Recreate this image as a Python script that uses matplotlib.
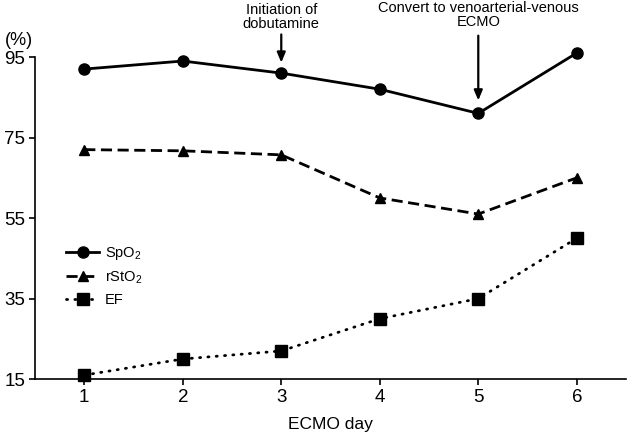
import matplotlib
matplotlib.use("Agg")
import matplotlib.pyplot as plt

plt.rcParams['font.family'] = ['Liberation Sans', 'DejaVu Sans']
plt.rcParams['mathtext.fontset'] = 'custom'
plt.rcParams['mathtext.rm'] = 'Liberation Sans'
plt.rcParams['mathtext.default'] = 'regular'

days = [1, 2, 3, 4, 5, 6]
spo2 = [92, 94, 91, 87, 81, 96]
rsto2 = [72, 71.7, 70.7, 60, 56, 65]
ef = [16, 20, 22, 30, 35, 50]
yticks = [15, 35, 55, 75, 95]

fig = plt.figure(figsize=(6.33, 4.45), dpi=100)
ax = fig.add_axes([0.0553, 0.148, 0.9337, 0.742])

ax.plot(days, spo2, color="black", lw=2, marker="o", ms=8, label="SpO$_2$", clip_on=False)
ax.plot(days, rsto2, color="black", lw=2, ls=(0, (4, 2)), marker="^", ms=7.5, label="rStO$_2$", clip_on=False)
ax.plot(days, ef, color="black", lw=2, ls=(0, (0.4, 2.6)), dash_capstyle="round",
        marker="s", ms=8, label="EF", clip_on=False)

ax.set_xlim(0.5, 6.5)
ax.set_ylim(15, 97)
ax.set_xticks(days)
ax.set_yticks(yticks)
ax.spines['top'].set_visible(False)
ax.spines['right'].set_visible(False)
ax.spines['left'].set_bounds(15, 95)
ax.spines['left'].set_linewidth(1.2)
ax.spines['bottom'].set_linewidth(1.2)
ax.tick_params(axis='both', direction='out', length=4, width=1.2, labelsize=13.5, pad=3)
ax.set_xlabel("ECMO day", fontsize=12.5, labelpad=8)

fig.text(0.03, 0.91, "(%)", fontsize=13, ha='center', va='center')

arrow = dict(arrowstyle="-|>,head_length=0.6,head_width=0.25", color="black", lw=1.6, shrinkA=0, shrinkB=0)
ax.annotate("", xy=(3, 93.6), xytext=(3, 100.6), arrowprops=arrow, annotation_clip=False)
ax.text(3, 105, "Initiation of\ndobutamine", ha='center', va='center', fontsize=10.5, linespacing=1.0)
ax.annotate("", xy=(5, 84.2), xytext=(5, 100.3), arrowprops=arrow, annotation_clip=False)
ax.text(5, 105.5, "Convert to venoarterial-venous\nECMO", ha='center', va='center', fontsize=10.5, linespacing=1.0)

ax.legend(loc='upper left', bbox_to_anchor=(0.03, 0.446), frameon=False, fontsize=10.5,
          handlelength=2.3, handletextpad=0.4, labelspacing=0.5)

fig.savefig("out.png", dpi=100)
